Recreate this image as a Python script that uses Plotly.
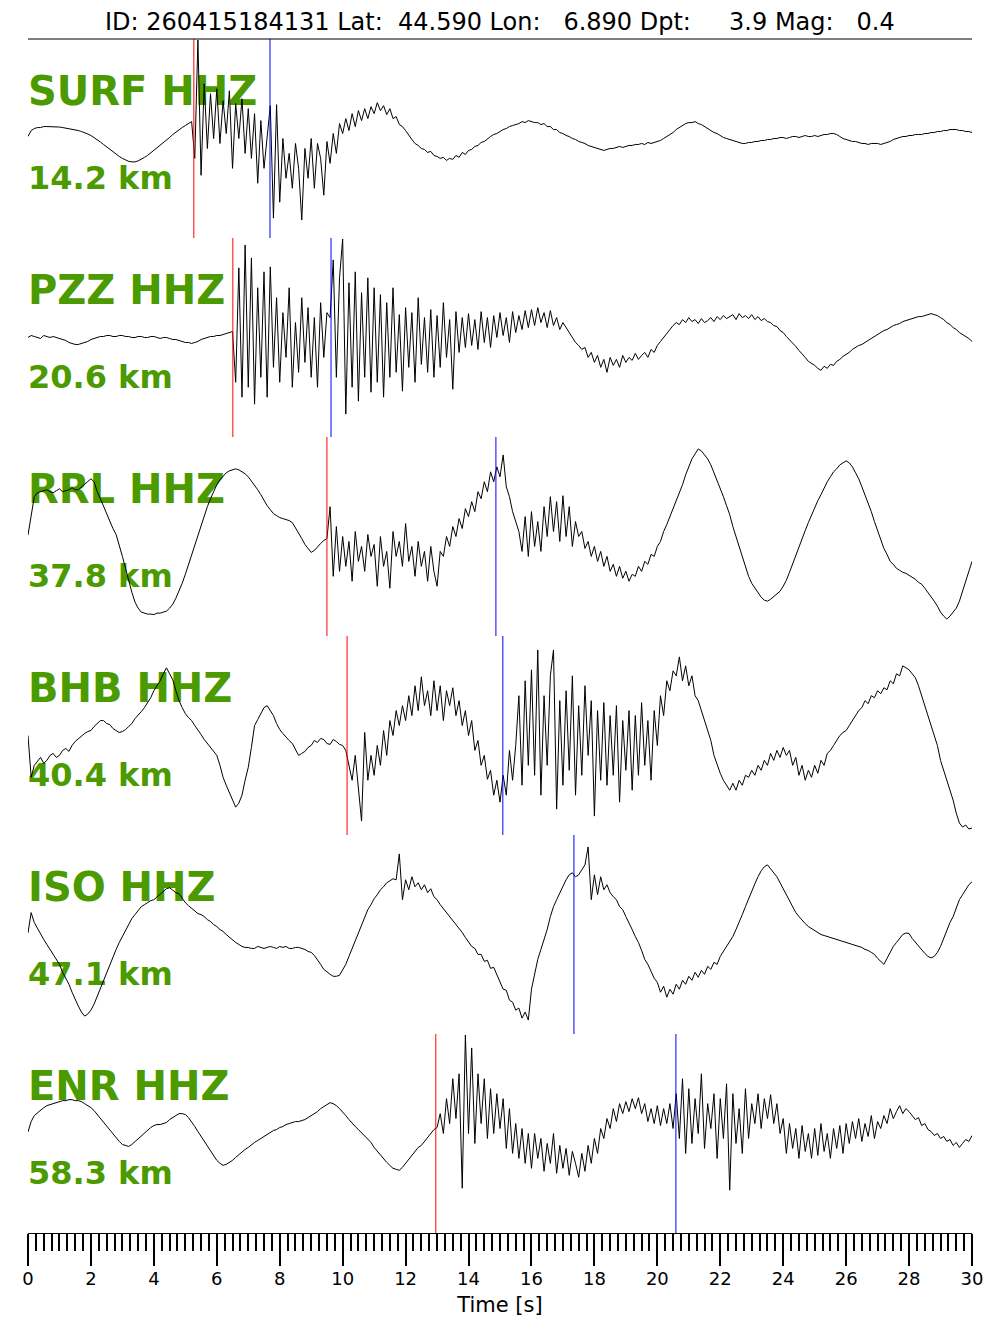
import numpy as np
import plotly.graph_objects as go

title_text = "ID: 260415184131 Lat:  44.590 Lon:   6.890 Dpt:     3.9 Mag:   0.4"
stations = ["SURF HHZ", "PZZ HHZ", "RRL HHZ", "BHB HHZ", "ISO HHZ", "ENR HHZ"]
distances = ["14.2 km", "20.6 km", "37.8 km", "40.4 km", "47.1 km", "58.3 km"]
p_picks = [5.27, 6.51, 9.50, 10.14, None, 12.96]
s_picks = [7.69, 9.63, 14.87, 15.09, 17.35, 20.59]
dt = 0.1  # sample interval [s]

surf = [
    2, 8, 10, 11, 11, 12, 12, 12, 12, 11.5,
    11.5, 11, 10.5, 10, 9.5, 9, 8, 7, 6, 4.5,
    3, 1, -1, -3.5, -6, -8.5, -11, -13.5, -16, -18,
    -20, -21.5, -23, -23.5, -23.5, -22.5, -21, -19, -17, -14.5,
    -12, -9.5, -7, -4.5, -2, 1, 4, 6.5, 9, 11,
    13, 15, 17, -20, 99, -37, 55, -10, 45, 0,
    50, -5, 38, 5, 48, -30, 35, 0, 40, -15,
    30, -20, 25, -45, 18, -30, 5, 33, -80, 34,
    -64, 0, -40, -15, -50, -5, -30, -82, -10, -40,
    0, -50, -5, -20, -57, -3, -25, 5, -15, 15,
    5, 20, 8, 25, 12, 28, 18, 30, 20, 32,
    25, 36, 28, 33, 24, 30, 20, 22, 14, 12,
    8, 3, -1, -5, -7, -10, -11, -14, -13, -17,
    -18, -20, -19, -22, -20, -21, -17, -19, -14, -16,
    -12, -11, -8, -7, -4, -3, 0, 2, 4, 5,
    7, 9, 10, 12, 13, 14, 15, 17, 16, 18,
    17, 16, 16, 14, 15, 12, 12, 9, 9, 6,
    5, 3, 2, 0, -1, -3, -4, -5, -7, -8,
    -9, -10, -11, -12, -11, -10, -10, -9, -8, -9,
    -8, -7, -7, -6, -6, -5, -6, -4, -5, -4,
    -3, -2, 0, 2, 4, 6, 9, 11, 13, 15,
    16, 16, 17, 15, 14, 12, 10, 8, 6, 5,
    3, 1, 0, -1, -2, -3, -4, -5, -5, -4,
    -4, -3, -3, -2, -2, -1, -1, 0, 0, 1,
    1, 0, 1, 2, 2, 1, 2, 3, 2, 2,
    3, 2, 3, 4, 4, 5, 5, 4, 2, 0,
    -1, -2, -3, -3, -4, -5, -5, -6, -5, -5,
    -5, -6, -5, -4, -3, -1, 0, 1, 2, 2,
    3, 3, 4, 4, 4, 5, 5, 6, 6, 7,
    7, 8, 8, 9, 9, 9, 8, 8, 7, 7,
    6,
]
pzz = [
    0, 2, 1, 0, -1, 2, 1, 0, 1, 0,
    -1, -2, -3, -5, -6, -7, -7, -6, -5, -4,
    -2, -1, 0, 1, 1, 2, 2, 1, 1, 2,
    2, 1, 1, 0, 0, 1, 1, 0, 0, 1,
    1, 0, -1, 0, 0, -1, -2, -2, -3, -4,
    -5, -5, -6, -5, -4, -2, -1, 0, 1, 1,
    2, 2, 3, 4, 5, 6, -45, 70, -60, 93,
    -50, 80, -67, 50, -40, 66, -60, 71, -30, 40,
    -45, 25, -20, 50, -50, 15, -35, 40, -25, 30,
    -40, 20, -50, 35, -20, 25, 20, 78, -40, 60,
    99, -77, 55, -50, 66, -64, 45, -40, 60, -55,
    50, -45, 43, -60, 35, -40, 50, -35, 23, -54,
    30, -30, 25, -45, 40, -27, 20, -35, 28, -40,
    22, -30, 35, -20, 18, -52, 26, -15, 20, -10,
    24, -8, 18, -12, 26, -5, 20, -10, 22, 0,
    25, 2, 20, -5, 26, 5, 22, 8, 27, 10,
    28, 12, 30, 15, 25, 10, 27, 12, 20, 8,
    15, 10, 5, 0, -5, -8, -12, -10, -20, -15,
    -25, -18, -30, -22, -35, -20, -28, -22, -30, -18,
    -25, -20, -23, -16, -22, -18, -15, -20, -12, -15,
    -8, -4, 0, 5, 9, 12, 15, 13, 18, 15,
    20, 16, 18, 14, 19, 15, 17, 20, 16, 21,
    18, 22, 19, 21, 23, 18, 24, 20, 22, 19,
    23, 18, 21, 17, 19, 16, 15, 12, 11, 7,
    5, 1, -2, -6, -9, -13, -16, -20, -24, -26,
    -28, -31, -33, -29, -31, -27, -28, -24, -22, -19,
    -17, -15, -12, -10, -8, -7, -5, -3, -1, 1,
    3, 5, 7, 8, 10, 12, 13, 14, 16, 17,
    18, 19, 20, 21, 21, 22, 23, 24, 23, 22,
    20, 18, 15, 13, 10, 8, 5, 3, 1, -1,
    -4,
]
rrl = [
    1.5, 22, 40, 44, 45, 46, 47, 45, 44, 46,
    48, 45, 46, 47, 49, 47, 47, 50, 53, 55,
    58, 55, 45, 38, 30, 22, 15, 8, 2, -8,
    -20, -32, -45, -56, -66, -72, -76, -77, -78, -78,
    -78.5, -77, -77, -76, -75, -72, -68, -62, -55, -47,
    -38, -28, -18, -9, 0, 11, 21, 30, 38, 45,
    52, 57, 61, 64, 66, 67, 68, 67, 65, 63,
    60, 56, 52, 47, 42, 36, 31, 27, 23, 21,
    19, 18, 17, 16, 14, 9, 4, -2, -8, -12,
    -16, -14, -10, -7, -4, -2, 30, -40, 10, -35,
    0, -30, -5, -45, 5, -25, -10, -35, 2, -20,
    -8, -50, 0, -30, -15, -52, 5, -20, -5, -30,
    13, -25, -10, -40, -5, -30, -15, -45, -10, -35,
    -50, -15, -20, 0, -10, 10, 0, 18, 8, 28,
    20, 35, 25, 45, 38, 55, 45, 65, 55, 70,
    60, 82, 50, 40, 25, 15, 5, -15, 20, -20,
    25, -10, 15, -15, 30, 0, 40, 5, 35, -5,
    41, 0, 30, -10, 15, 0, 5, -12, -5, -20,
    -10, -25, -15, -30, -20, -35, -28, -40, -30, -42,
    -35, -45, -38, -40, -30, -35, -25, -28, -18, -20,
    -10, -5, 5, 12, 20, 28, 36, 45, 52, 62,
    70, 78, 83, 88, 86, 82, 78, 72, 64, 58,
    48, 40, 31, 22, 10, 0, -12, -22, -32, -40,
    -47, -52, -57, -61, -64, -65, -63, -60, -58, -55,
    -50, -44, -36, -28, -20, -12, -3, 6, 14, 22,
    30, 36, 42, 49, 55, 60, 65, 68, 72, 74,
    76, 74, 70, 64, 58, 50, 42, 34, 25, 15,
    6, -3, -12, -18, -25, -28, -32, -34, -36, -37,
    -39, -41, -43, -46, -48, -52, -56, -60, -65, -70,
    -76, -80, -83, -80, -76, -72, -65, -55, -45, -35,
    -25,
]
bhb = [
    0, -42, -30, -26, -22, -28, -25, -20, -18, -22,
    -20, -15, -13, -16, -10, -6, -3, 0, 2, 4,
    5, 9, 12, 15, 15, 12, 11, 7, 5, 3,
    4, 6, 9, 12, 17, 20, 24, 28, 33, 38,
    45, 50, 55, 62, 68, 62, 56, 45, 35, 28,
    22, 18, 15, 10, 6, 1, -4, -8, -12, -16,
    -20, -30, -42, -50, -58, -65, -72, -68, -60, -45,
    -32, -12, 10, 16, 22, 28, 30, 25, 20, 12,
    6, 2, -2, -5, -8, -14, -20, -18, -16, -12,
    -10, -5, -7, -3, -4, -8, -9, -4, -6, -9,
    -10, -15, -30, -45, -20, -50, -86, 3, -45, -20,
    -40, -10, -30, 5, -20, 15, 0, 25, 10, 30,
    15, 40, 20, 50, 25, 59, 30, 45, 20, 55,
    25, 50, 15, 45, 30, 48, 20, 35, 10, 25,
    0, 15, -15, -5, -30, -20, -44, -35, -60, -45,
    -67, -40, -60, -15, -45, -10, 40, -50, 55, -30,
    66, -40, 86, -60, 40, -30, 60, 86, -74, 35,
    -50, 45, -35, 60, -60, 30, -40, 50, -20, 35,
    -81, 25, -45, 33, -50, 20, -40, 30, -67, 15,
    -35, 25, -55, 20, -40, 33, -30, 15, -45, 25,
    -10, 40, 20, 55, 45, 65, 60, 79, 55, 70,
    50, 60, 40, 35, 25, 15, 5, -5, -20, -30,
    -38, -45, -50, -55, -48, -55, -45, -50, -40, -42,
    -35, -40, -30, -35, -25, -30, -18, -25, -15, -22,
    -12, -20, -15, -30, -22, -40, -30, -45, -35, -42,
    -30, -38, -25, -30, -18, -15, -10, -5, 0, 3,
    5, 10, 15, 20, 25, 28, 35, 32, 40, 38,
    45, 42, 48, 46, 55, 52, 62, 60, 70, 68,
    66, 62, 58, 50, 40, 30, 20, 12, 2, -10,
    -25, -35, -45, -55, -65, -78, -88, -92, -90, -94,
    -93,
]
iso = [
    1.5, 22, 12, 6, 0, -5, -10, -15, -20, -25,
    -30, -38, -44, -50, -58, -66, -72, -78, -82, -80,
    -76, -70, -62, -53, -45, -38, -30, -22, -15, -8,
    -2, 5, 11, 16, 20, 24, 28, 30, 32, 34,
    35, 38, 40, 43, 46, 47, 44, 42, 41, 36,
    32, 29, 26, 24, 21, 20, 18, 15, 13, 10,
    8, 5, 3, 0, -3, -5, -8, -10, -12, -13,
    -13, -14, -14, -12, -13, -14, -13, -12, -13, -14,
    -12, -13, -12, -14, -14, -13, -13, -14, -15, -17,
    -18, -21, -25, -30, -35, -38, -40, -42, -42, -41,
    -36, -30, -22, -14, -6, 1, 8, 16, 25, 30,
    36, 40, 45, 48, 52, 54, 56, 55, 81, 35,
    55, 45, 58, 48, 52, 45, 50, 42, 46, 38,
    35, 30, 26, 22, 18, 14, 11, 7, 2, -3,
    -8, -12, -14, -20, -20, -27, -26, -34, -33, -40,
    -48, -55, -56, -66, -68, -76, -74, -84, -78, -86,
    -55, -40, -25, -15, -5, 5, 18, 28, 35, 42,
    48, 55, 60, 62, 58, 60, 65, 70, 88, 35,
    60, 40, 58, 45, 50, 42, 38, 35, 28, 25,
    18, 12, 5, -2, -8, -16, -25, -30, -38, -44,
    -48, -58, -52, -63, -55, -60, -50, -55, -46, -50,
    -42, -46, -38, -43, -36, -40, -32, -35, -28, -30,
    -22, -17, -12, -7, -2, 5, 12, 20, 28, 36,
    45, 51, 58, 64, 68, 70, 66, 62, 58, 52,
    46, 40, 35, 28, 22, 18, 14, 11, 8, 6,
    4, 2, 0, -1, -2, -3, -4, -5, -6, -7,
    -8, -9, -10, -11, -12, -13, -15, -16, -18, -20,
    -24, -27, -30, -24, -18, -12, -8, -4, 0, 1.5,
    1, -4, -8, -12, -15, -19, -22, -23.5, -22, -18,
    -12, -4, 5, 12, 18, 26, 35, 40, 45, 50,
    53,
]
enr = [
    1.5, 12, 18, 21, 24, 26, 28, 29, 30, 31,
    32, 33, 33, 34, 34, 33, 33, 32, 30, 28,
    26, 23, 19, 15, 11, 7, 3, -1, -5, -8,
    -11, -12, -13, -11, -8, -6, -3, 0, 3, 6,
    8, 9, 9, 10, 11, 14, 16, 18, 20, 20,
    19, 16, 12, 7, 2, -3, -8, -13, -17, -22,
    -27, -30, -32, -31, -29, -27, -24, -21, -19, -16,
    -14, -11, -9, -7, -5, -3, -1, 1, 3, 4,
    6, 7, 9, 10, 11, 12, 12, 13, 14, 16,
    18, 20, 22, 25, 27, 29, 31, 30, 28, 25,
    22, 18, 14, 10, 7, 4, 1, -2, -5, -9,
    -14, -18, -22, -26, -29, -32, -35, -36, -37, -34,
    -30, -26, -21, -17, -14, -12, -8, -3, 1, 4,
    6, 20, 0, 35, 10, 55, 15, 60, -55, 99,
    0, 86, -10, 60, 10, 55, -5, 45, 0, 40,
    5, 35, -15, 25, -20, 10, -25, 5, -30, 0,
    -35, 0, -25, -5, -38, -10, -30, 0, -40, -12,
    -35, -15, -42, -18, -30, -44, -20, -38, -12, -30,
    -5, -20, 5, -5, 15, 5, 25, 12, 30, 20,
    32, 22, 35, 25, 36, 20, 30, 12, 25, 10,
    28, 8, 25, 10, 30, 5, 40, -5, 55, -20,
    45, -10, 35, 0, 60, -15, 30, 5, 40, -25,
    35, -5, 50, -57, 40, -10, 25, -20, 45, -5,
    30, 10, 40, 5, 35, 15, 39, 10, 30, 0,
    15, -20, 10, -15, 5, -25, 8, -18, 0, -25,
    5, -22, 10, -18, 0, -25, 5, -15, 8, -20,
    10, -10, 12, -5, 15, -8, 10, -3, 18, -5,
    12, 5, 18, 10, 25, 15, 22, 28, 20, 25,
    22, 18, 14, 16, 8, 10, 4, 2, -2, 0,
    -5, -3, -8, -6, -12, -9, -14, -10, -6, -8,
    -2,
]

waveforms = [surf, pzz, rrl, bhb, iso, enr]
assert all(len(w) == 301 for w in waveforms), [len(w) for w in waveforms]

GREEN = "#4a9a00"
FONT = "DejaVu Sans"
N = len(waveforms)
AMP = 100.0
LABEL_FRAC = 0.719
DIST_FRAC = 0.287

fig = go.Figure()
layout_axes = {}
shapes = []

for i, w in enumerate(waveforms):
    yname = "y" if i == 0 else f"y{i+1}"
    ykey = "yaxis" if i == 0 else f"yaxis{i+1}"
    layout_axes[ykey] = dict(
        domain=[1 - (i + 1) / N, 1 - i / N],
        range=[-AMP, AMP],
        visible=False,
        fixedrange=True,
        anchor="x",
    )
    # station label and distance label (drawn beneath the waveform)
    fig.add_trace(go.Scatter(
        x=[0], y=[AMP * (2 * LABEL_FRAC - 1)],
        mode="text", text=[stations[i]],
        textposition="middle right",
        textfont=dict(family=FONT, size=40, color=GREEN, weight="bold"),
        xaxis="x", yaxis=yname, showlegend=False, hoverinfo="skip",
        cliponaxis=False,
    ))
    fig.add_trace(go.Scatter(
        x=[0], y=[AMP * (2 * DIST_FRAC - 1)],
        mode="text", text=[distances[i]],
        textposition="middle right",
        textfont=dict(family=FONT, size=32, color=GREEN, weight="bold"),
        xaxis="x", yaxis=yname, showlegend=False, hoverinfo="skip",
        cliponaxis=False,
    ))
    t = np.arange(len(w)) * dt
    fig.add_trace(go.Scatter(
        x=t, y=w, mode="lines", line=dict(color="black", width=1),
        xaxis="x", yaxis=yname, showlegend=False,
    ))
    if p_picks[i] is not None:
        shapes.append(dict(type="line", xref="x", yref=f"{yname} domain",
                           x0=p_picks[i], x1=p_picks[i], y0=0, y1=1,
                           line=dict(color="#ff0000", width=1)))
    if s_picks[i] is not None:
        shapes.append(dict(type="line", xref="x", yref=f"{yname} domain",
                           x0=s_picks[i], x1=s_picks[i], y0=0, y1=1,
                           line=dict(color="#0000ff", width=1)))

# top border line under the title
shapes.append(dict(type="line", xref="paper", yref="paper", x0=0, x1=1, y0=1, y1=1,
                   line=dict(color="black", width=1.2)))

fig.update_layout(
    width=1000, height=1333,
    margin=dict(l=28, r=28, t=39, b=100),
    paper_bgcolor="white", plot_bgcolor="white",
    showlegend=False,
    shapes=shapes,
    xaxis=dict(
        domain=[0, 1], range=[0, 30], anchor="y6",
        showline=True, linecolor="black", linewidth=1.2,
        ticks="outside", ticklen=32, tickwidth=1.5, tickcolor="black",
        tick0=0, dtick=2, ticklabelstandoff=-3,
        minor=dict(dtick=0.25, ticklen=17, tickwidth=1.5, tickcolor="black", ticks="outside"),
        showgrid=False, zeroline=False, fixedrange=True,
        tickfont=dict(family=FONT, size=18, color="black"),
        title=dict(text="Time [s]", font=dict(family=FONT, size=21, color="black"), standoff=9),
        automargin=False,
    ),
    annotations=[dict(
        text=title_text.replace("  ", "\u00a0\u00a0").replace("\u00a0 ", "\u00a0\u00a0"),
        xref="paper", yref="paper", x=0.5, y=1, yanchor="middle", xanchor="center",
        yshift=17, showarrow=False,
        font=dict(family=FONT, size=24, color="black"),
    )],
    **layout_axes,
)

fig.write_html("out.html", config={"displayModeBar": False},
               post_script="document.body.style.margin='0';")
